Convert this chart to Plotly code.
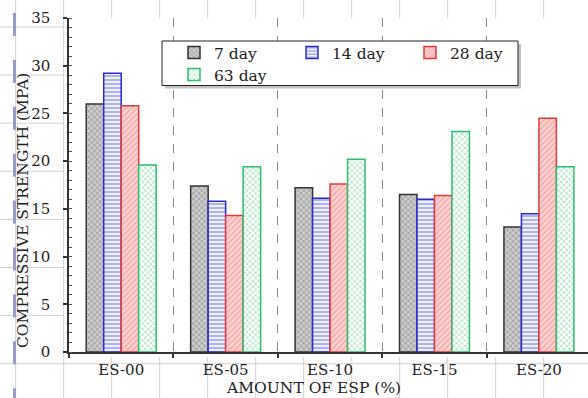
import plotly.graph_objects as go

categories = ["ES-00", "ES-05", "ES-10", "ES-15", "ES-20"]
day7 = [26.0, 17.4, 17.2, 16.5, 13.1]
day14 = [29.2, 15.8, 16.1, 16.0, 14.5]
day28 = [25.8, 14.3, 17.6, 16.4, 24.5]
day63 = [19.6, 19.4, 20.2, 23.1, 19.4]
series_names = ["7 day", "14 day", "28 day", "63 day"]
y_ticks = [0, 5, 10, 15, 20, 25, 30, 35]

W, H = 588, 398
ML, MR, MT, MB = 69, 0, 18, 46
PW, PH = W - ML - MR, H - MT - MB
FONT = "DejaVu Serif"
TXT = "#222222"

styles = [
    dict(shape="x", fg="#606060", bg="#cccccc", line="#333333"),
    dict(shape="-", fg="#3b3bd6", bg="#eef0ff", line="#2b2bd0"),
    dict(shape="/", fg="#ee7777", bg="#fbd3d3", line="#e63b3b"),
    dict(shape="x", fg="#3cbf72", bg="#ffffff", line="#2fbf6e"),
]
legend_ids = ["legend", "legend2", "legend3", "legend4"]
# legend entry anchor (left x, row centre y) in pixels
legend_pos = [(174, 53), (292, 53), (410, 53), (174, 75)]


def px(x):
    return (x - ML) / PW


def py(y):
    return (H - MB - y) / PH


fig = go.Figure()
for name, vals, st, lid in zip(series_names, [day7, day14, day28, day63], styles, legend_ids):
    fig.add_trace(go.Bar(
        x=categories, y=vals, name=name, legend=lid,
        marker=dict(
            color=st["bg"],
            line=dict(color=st["line"], width=1.5),
            pattern=dict(shape=st["shape"], fgcolor=st["fg"], bgcolor=st["bg"],
                         size=4, solidity=0.35, fillmode="overlay"),
        ),
    ))

shapes = []
# faint spreadsheet grid in the page background
for k in range(13):
    xv = 15.7 + 48 * k
    shapes.append(dict(type="line", xref="paper", yref="paper", layer="below",
                       x0=px(xv), x1=px(xv), y0=py(0), y1=py(H),
                       line=dict(color="#d2d2d2", width=1)))
for k in range(8):
    yv = 27 + 48.1 * k
    shapes.append(dict(type="line", xref="paper", yref="paper", layer="below",
                       x0=px(0), x1=px(W), y0=py(yv), y1=py(yv),
                       line=dict(color="#d2d2d2", width=1)))
for k in range(9):
    y0 = 13 + 46.9 * k
    shapes.append(dict(type="line", xref="paper", yref="paper", layer="below",
                       x0=px(14.5), x1=px(14.5), y0=py(y0), y1=py(min(y0 + 23, H)),
                       line=dict(color="#9a9ac8", width=3)))
# white chart image area
shapes.append(dict(type="rect", xref="paper", yref="paper", layer="below",
                   x0=px(64), x1=px(W + 2), y0=py(18.5), y1=py(357),
                   fillcolor="white", line=dict(width=0)))
# legend box with shadow
shapes.append(dict(type="rect", xref="paper", yref="paper", layer="above",
                   x0=px(165), x1=px(521), y0=py(44), y1=py(88.5),
                   fillcolor="#9a9a9a", line=dict(width=0), opacity=0.6))
shapes.append(dict(type="rect", xref="paper", yref="paper", layer="above",
                   x0=px(162), x1=px(518), y0=py(41), y1=py(85.5),
                   fillcolor="white", line=dict(color="#222222", width=1)))

layout_legends = {}
for lid, (lx, ly) in zip(legend_ids, legend_pos):
    layout_legends[lid] = dict(
        x=px(lx), y=py(ly), xanchor="left", yanchor="middle",
        bgcolor="rgba(0,0,0,0)", borderwidth=0,
        font=dict(family=FONT, size=15.5, color=TXT),
        itemwidth=30,
    )

fig.update_layout(
    width=W, height=H,
    margin=dict(l=ML, r=MR, t=MT, b=MB, pad=0),
    paper_bgcolor="white", plot_bgcolor="white",
    font=dict(family=FONT, size=15, color=TXT),
    barmode="group", bargap=0.33, bargroupgap=0,
    showlegend=True,
    shapes=shapes,
    xaxis=dict(
        type="category", range=[-0.5, 4.47],
        showline=True, linecolor="#333333", linewidth=1.5,
        ticks="outside", ticklen=4, tickcolor="#333333", tickwidth=1.5,
        tickson="boundaries",
        showgrid=True, gridcolor="#8a8a8a", gridwidth=1.2, griddash="dash",
        tickfont=dict(family=FONT, size=15, color=TXT),
        ticklabelstandoff=3,
        zeroline=False, fixedrange=True,
    ),
    yaxis=dict(
        range=[0, 35], tickvals=y_ticks,
        showline=True, linecolor="#333333", linewidth=1.5,
        ticks="outside", ticklen=4, tickcolor="#333333", tickwidth=1.5,
        minor=dict(dtick=1, ticks="inside", ticklen=3, tickcolor="#555555", tickwidth=1),
        showgrid=False, zeroline=False,
        tickfont=dict(family=FONT, size=15, color=TXT),
        ticklabelstandoff=10,
    ),
    annotations=[
        dict(text="COMPRESSIVE STRENGTH (MPA)", textangle=-90, showarrow=False,
             xref="paper", yref="paper", x=px(23), y=py(211),
             xanchor="center", yanchor="middle",
             font=dict(family=FONT, size=15.5, color=TXT)),
        dict(text="AMOUNT OF ESP (%)", showarrow=False,
             xref="paper", yref="paper", x=px(313), y=py(388),
             xanchor="center", yanchor="middle",
             font=dict(family=FONT, size=15.5, color=TXT)),
    ],
    **layout_legends,
)

fig.write_html("out.html")
